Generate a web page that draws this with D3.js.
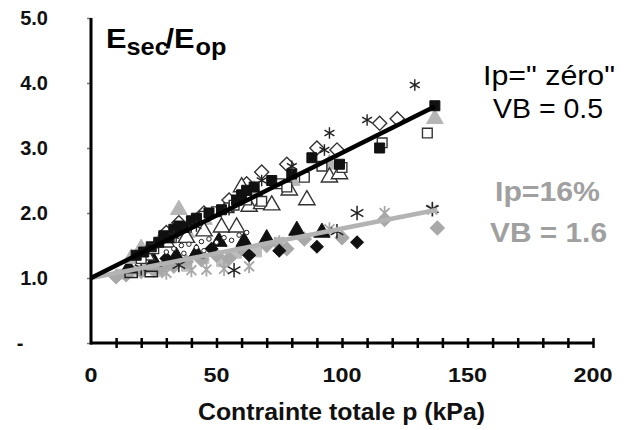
<!DOCTYPE html>
<html><head><meta charset="utf-8">
<script src="https://cdn.jsdelivr.net/npm/d3@7"></script>
<style>
html,body{margin:0;padding:0;background:#fff;}
svg{display:block;font-family:"Liberation Sans",Arial,sans-serif;}
</style></head>
<body><svg id="c" width="628" height="430"></svg>
<script>
// ---- data (kPa, Esec/Eop) ----
const xTicksMajor = [0, 50, 100, 150, 200];
const xTicksMinor = d3.range(10, 201, 10);
const yTicks = [0, 1, 2, 3, 4, 5];
const yTickLabels = ["-", "1.0", "2.0", "3.0", "4.0", "5.0"];

// Ip = "zéro" group
const upFilledSquare = [[18,1.35],[21,1.4],[24,1.48],[27,1.55],[29,1.65],[31,1.62],[33,1.75],[35,1.8],[37,1.78],[40,1.88],[42,1.92],[47,2.0],[52,2.05],[58,2.2],[60,2.28],[62,2.35],[65,2.4],[72,2.5],[80,2.6],[88,2.85],[99,2.75],[115,3.0],[137,3.65]];
const upOpenSquare = [[20,1.3],[25,1.45],[32,1.62],[38,1.78],[45,1.95],[50,2.02],[55,2.08],[57,2.12],[62,2.2],[68,2.18],[75,2.45],[78,2.4],[85,2.55],[92,2.72],[100,2.7],[116,3.08],[134,3.23]];
const upOpenTriangle = [[22,1.35],[30,1.55],[38,1.62],[45,1.72],[52,1.78],[58,1.78],[60,2.4],[63,2.1],[68,2.14],[72,2.12],[79,2.35],[86,2.2],[95,2.55],[99,2.6]];
const upOpenDiamond = [[30,1.7],[35,1.85],[45,2.0],[55,2.2],[62,2.45],[68,2.63],[78,2.75],[90,3.0],[98,2.97],[115,3.38],[122,3.45]];
const upGrayTriangle = [[16,1.3],[20,1.45],[28,1.6],[35,2.05],[38,1.7],[45,1.9],[55,2.15],[65,2.35],[80,2.5],[95,2.75],[137,3.45]];
const upAsterisk = [[25,1.5],[33,1.65],[42,1.8],[55,2.05],[68,2.5],[80,2.72],[93,2.97],[95,3.23],[110,3.43],[129,3.97]];
const upCircle = [[30,1.4],[33,1.45],[36,1.5],[39,1.52],[42,1.47],[44,1.56],[47,1.6],[50,1.55],[53,1.62],[56,1.58],[59,1.66],[62,1.7],[37,1.38],[45,1.42]];

// Ip = 16% group
const loBlackTriangle = [[15,1.15],[25,1.25],[34,1.33],[42,1.38],[51,1.56],[61,1.56],[70,1.6],[82,1.73],[92,1.7]];
const loBlackDiamond = [[30,1.3],[48,1.45],[63,1.35],[75,1.42],[90,1.48],[106,1.55]];
const loGrayDiamond = [[10,1.02],[14,1.05],[20,1.1],[25,1.12],[28,1.15],[33,1.18],[38,1.25],[44,1.28],[50,1.35],[55,1.3],[60,1.45],[70,1.5],[78,1.45],[85,1.6],[100,1.62],[117,1.9],[138,1.77]];
const loGrayAsterisk = [[30,1.08],[40,1.12],[46,1.13],[53,1.14],[63,1.18],[75,1.55],[95,1.75],[117,2.0],[136,2.05]];
const loBlackAsterisk = [[20,1.15],[35,1.2],[57,1.12],[98,1.72],[106,2.0],[136,2.06]];
const loGraySquare = [[12,1.06],[15,1.08],[18,1.12],[22,1.15],[27,1.1],[32,1.2],[38,1.18],[45,1.3],[52,1.25],[58,1.38],[66,1.4],[75,1.55]];
const loOpenRect = [[16,1.05],[24,1.06]];

// trend lines
const trendUp = [[0,1.0],[137,3.64]];
const trendLo = [[0,1.0],[138,2.05]];

// ---- drawing ----
const svg = d3.select("#c");
const x = d3.scaleLinear().domain([0,200]).range([91,593]);
const y = d3.scaleLinear().domain([0,5]).range([343,18]);

const GRAY = "#a8a8a8";
const asteriskType = {draw(ctx, size){
  const r = Math.sqrt(size)/2;
  const a = r*0.87, b = r*0.5;
  ctx.moveTo(0,-r); ctx.lineTo(0,r);
  ctx.moveTo(-a,-b); ctx.lineTo(a,b);
  ctx.moveTo(-a,b); ctx.lineTo(a,-b);
}};
const asteriskX = {draw(ctx,size){
  const r = Math.sqrt(size)/2;
  ctx.moveTo(0,-r); ctx.lineTo(0,r);
  ctx.moveTo(-r*0.7,-r*0.7); ctx.lineTo(r*0.7,r*0.7);
  ctx.moveTo(-r*0.7,r*0.7); ctx.lineTo(r*0.7,-r*0.7);
}};
const rectType = {draw(ctx,size){
  const w = Math.sqrt(size), h = w*0.45;
  ctx.rect(-w/2,-h/2,w,h);
}};

const series = [
  {d: loGraySquare, type: d3.symbolSquare, size: 95, fill: "#bdbdbd", stroke: "#bdbdbd", sw: 1},
  {d: loGrayDiamond, type: d3.symbolSquare, size: 100, rot: 45, fill: GRAY, stroke: GRAY, sw: 1},
  {d: loGrayAsterisk, type: asteriskX, size: 200, fill: "none", stroke: GRAY, sw: 1.8},
  {d: loBlackTriangle, type: d3.symbolTriangle, size: 115, fill: "#111", stroke: "#111", sw: 1},
  {d: loBlackDiamond, type: d3.symbolSquare, size: 80, rot: 45, fill: "#111", stroke: "#111", sw: 1},
  {d: loBlackAsterisk, type: asteriskType, size: 210, fill: "none", stroke: "#222", sw: 1.5},
  {d: loOpenRect, type: rectType, size: 150, fill: "none", stroke: "#222", sw: 1.5},
  {d: upGrayTriangle, type: d3.symbolTriangle, size: 120, fill: "#b5b5b5", stroke: "#b5b5b5", sw: 1},
  {d: upOpenDiamond, type: d3.symbolSquare, size: 100, rot: 45, fill: "#fff", stroke: "#333", sw: 1.4},
  {d: upOpenTriangle, type: d3.symbolTriangle, size: 115, fill: "#fff", stroke: "#333", sw: 1.4},
  {d: upOpenSquare, type: d3.symbolSquare, size: 95, fill: "#fff", stroke: "#333", sw: 1.4},
  {d: upFilledSquare, type: d3.symbolSquare, size: 100, fill: "#111", stroke: "#111", sw: 1},
  {d: upAsterisk, type: asteriskType, size: 130, fill: "none", stroke: "#222", sw: 1.4},
  {d: upCircle, type: d3.symbolCircle, size: 16, fill: "#fff", stroke: "#222", sw: 1}
];

const gm = svg.append("g");
series.forEach(s => {
  const sym = d3.symbol().type(s.type).size(s.size);
  gm.append("g").selectAll("path").data(s.d).join("path")
    .attr("d", sym)
    .attr("transform", d => `translate(${x(d[0])},${y(d[1])})` + (s.rot ? ` rotate(${s.rot})` : ""))
    .attr("fill", s.fill).attr("stroke", s.stroke).attr("stroke-width", s.sw);
});

const line = d3.line().x(d => x(d[0])).y(d => y(d[1]));
svg.append("path").datum(trendLo).attr("d", line).attr("stroke", "#b3b3b3").attr("stroke-width", 4.5).attr("fill", "none");
svg.append("path").datum(trendUp).attr("d", line).attr("stroke", "#000").attr("stroke-width", 4.5).attr("fill", "none");

// axes
const gx = svg.append("g");
gx.append("g").attr("transform", `translate(0,${y(0)})`)
  .call(d3.axisBottom(x).tickValues(xTicksMinor).tickSize(5).tickFormat(""))
  .call(g => g.selectAll("line").attr("stroke", "#000").attr("stroke-width", 2.5))
  .call(g => g.select(".domain").remove());
gx.append("g").attr("transform", `translate(0,${y(0)})`)
  .call(d3.axisTop(x).tickValues(xTicksMinor).tickSize(5).tickFormat(""))
  .call(g => g.selectAll("line").attr("stroke", "#000").attr("stroke-width", 2.5))
  .call(g => g.select(".domain").remove());
svg.append("line").attr("x1", x(0)-1).attr("x2", x(200)).attr("y1", y(0)).attr("y2", y(0))
  .attr("stroke", "#000").attr("stroke-width", 3);

svg.append("g").attr("transform", `translate(${x(0)},0)`)
  .call(d3.axisLeft(y).tickValues(yTicks).tickSize(4).tickFormat(""))
  .call(g => g.selectAll("line").attr("stroke", "#777").attr("stroke-width", 1.5))
  .call(g => g.select(".domain").remove());
svg.append("line").attr("x1", x(0)).attr("x2", x(0)).attr("y1", y(5)).attr("y2", y(0)+1.5)
  .attr("stroke", "#000").attr("stroke-width", 3);

// tick labels
svg.append("g").selectAll("text").data(xTicksMajor).join("text")
  .attr("x", d => x(d)).attr("y", 382).attr("text-anchor", "middle")
  .attr("font-size", 21).attr("font-weight", "bold").attr("fill", "#111")
  .attr("textLength", d => String(d).length * 13).attr("lengthAdjust", "spacingAndGlyphs")
  .text(d => d);
svg.append("g").selectAll("text").data(yTicks).join("text")
  .attr("x", (d,i) => i === 0 ? 20 : 48).attr("y", d => y(d) + 7)
  .attr("text-anchor", (d,i) => i === 0 ? "middle" : "end")
  .attr("font-size", 20).attr("font-weight", "bold").attr("fill", "#111")
  .text((d,i) => yTickLabels[i]);

// axis title
svg.append("text").attr("x", 198).attr("y", 420)
  .attr("font-size", 23).attr("font-weight", "bold").attr("fill", "#111")
  .attr("textLength", 287).attr("lengthAdjust", "spacingAndGlyphs")
  .text("Contrainte totale p (kPa)");

// y title
const tg = svg.append("g").attr("transform", "translate(106,48) scale(1.1,1)");
const t = tg.append("text").attr("x", 0).attr("y", 0).attr("font-weight", "bold").attr("fill", "#000");
t.append("tspan").attr("font-size", 28).text("E");
t.append("tspan").attr("font-size", 23).attr("dy", 7).text("sec");
t.append("tspan").attr("font-size", 28).attr("dy", -7).attr("dx", -3).text("/E");
t.append("tspan").attr("font-size", 23).attr("dy", 7).attr("dx", 1).text("op");

// annotations
const ann = [
  {s: 'Ip=" zéro"', x: 483, y: 85, w: 132, c: "#000", fw: "normal"},
  {s: "VB = 0.5", x: 493, y: 118, w: 110, c: "#000", fw: "normal"},
  {s: "Ip=16%", x: 495, y: 201, w: 105, c: "#a0a0a0", fw: "bold"},
  {s: "VB = 1.6", x: 490, y: 242, w: 117, c: "#a0a0a0", fw: "bold"}
];
svg.append("g").selectAll("text").data(ann).join("text")
  .attr("x", d => d.x).attr("y", d => d.y).attr("font-size", 28)
  .attr("font-weight", d => d.fw).attr("fill", d => d.c)
  .attr("textLength", d => d.w).attr("lengthAdjust", "spacingAndGlyphs")
  .text(d => d.s);
</script></body></html>
